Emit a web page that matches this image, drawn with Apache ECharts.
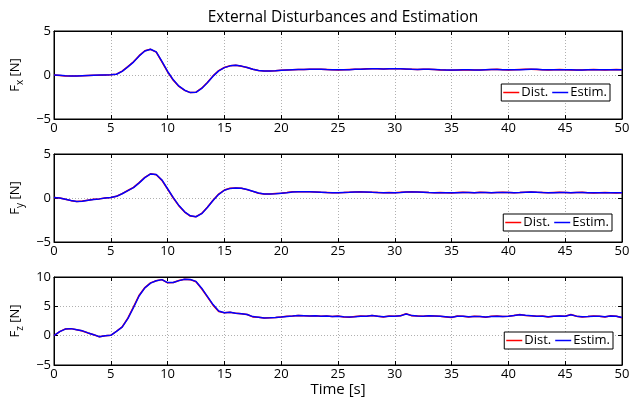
<!DOCTYPE html>
<html>
<head>
<meta charset="utf-8">
<script src="https://cdn.jsdelivr.net/npm/echarts@6/dist/echarts.min.js"></script>
<style>html,body{margin:0;padding:0;background:#fff}#c{width:641px;height:400px}</style>
</head>
<body>
<div id="c"></div>
<script>
// time [s]
const time = [0,0.5,1,1.5,2,2.5,3,3.5,4,4.5,5,5.5,6,6.5,7,7.5,8,8.5,9,9.5,10,10.5,11,11.5,12,12.5,13,13.5,14,14.5,15,15.5,16,16.5,17,17.5,18,18.5,19,19.5,20,20.5,21,21.5,22,22.5,23,23.5,24,24.5,25,25.5,26,26.5,27,27.5,28,28.5,29,29.5,30,30.5,31,31.5,32,32.5,33,33.5,34,34.5,35,35.5,36,36.5,37,37.5,38,38.5,39,39.5,40,40.5,41,41.5,42,42.5,43,43.5,44,44.5,45,45.5,46,46.5,47,47.5,48,48.5,49,49.5,50];

const fxDist = [0,-0.05,-0.1,-0.12,-0.1,-0.08,-0.05,-0.03,-0.02,0,0.02,0.1,0.45,0.95,1.5,2.2,2.75,2.92,2.6,1.5,0.35,-0.6,-1.3,-1.75,-2.0,-1.95,-1.5,-0.85,-0.1,0.5,0.85,1.05,1.1,1.0,0.85,0.65,0.5,0.45,0.45,0.48,0.55,0.58,0.6,0.63,0.62,0.65,0.66,0.64,0.62,0.6,0.58,0.6,0.62,0.64,0.66,0.7,0.72,0.7,0.68,0.7,0.72,0.7,0.66,0.64,0.62,0.65,0.66,0.62,0.58,0.56,0.55,0.58,0.6,0.58,0.56,0.58,0.6,0.63,0.64,0.6,0.58,0.6,0.62,0.64,0.66,0.63,0.6,0.58,0.6,0.62,0.6,0.58,0.56,0.58,0.6,0.62,0.6,0.58,0.6,0.62,0.6];
const fxEstim = [0,-0.04,-0.09,-0.12,-0.11,-0.08,-0.05,-0.03,-0.01,0,0.02,0.09,0.42,0.92,1.47,2.17,2.73,2.92,2.63,1.55,0.4,-0.55,-1.27,-1.73,-2.0,-1.97,-1.53,-0.88,-0.13,0.47,0.84,1.04,1.1,1.01,0.86,0.66,0.51,0.45,0.45,0.47,0.54,0.58,0.61,0.62,0.63,0.64,0.65,0.65,0.62,0.61,0.59,0.6,0.61,0.64,0.65,0.69,0.71,0.7,0.69,0.7,0.71,0.7,0.67,0.64,0.63,0.64,0.65,0.63,0.59,0.57,0.56,0.57,0.6,0.59,0.57,0.58,0.6,0.62,0.63,0.61,0.59,0.6,0.61,0.63,0.65,0.64,0.61,0.59,0.6,0.61,0.6,0.59,0.57,0.58,0.6,0.61,0.6,0.59,0.6,0.61,0.6];

const fyDist = [0.05,0,-0.15,-0.3,-0.4,-0.35,-0.25,-0.15,-0.1,0,0.05,0.2,0.5,0.85,1.2,1.75,2.35,2.75,2.65,2.0,1.0,0,-0.9,-1.6,-2.05,-2.12,-1.75,-1.05,-0.25,0.45,0.9,1.1,1.15,1.1,0.95,0.75,0.55,0.45,0.45,0.5,0.55,0.62,0.7,0.72,0.72,0.7,0.68,0.64,0.62,0.6,0.6,0.62,0.65,0.68,0.7,0.66,0.64,0.62,0.6,0.62,0.6,0.64,0.68,0.7,0.68,0.66,0.62,0.6,0.62,0.6,0.58,0.62,0.64,0.62,0.6,0.64,0.62,0.6,0.62,0.64,0.62,0.6,0.62,0.66,0.68,0.64,0.62,0.6,0.62,0.64,0.62,0.6,0.62,0.64,0.6,0.58,0.6,0.62,0.6,0.58,0.6];
const fyEstim = [0.05,0.01,-0.14,-0.29,-0.39,-0.36,-0.26,-0.16,-0.1,-0.01,0.05,0.19,0.48,0.83,1.18,1.72,2.32,2.74,2.68,2.05,1.05,0.05,-0.86,-1.57,-2.03,-2.13,-1.78,-1.09,-0.29,0.42,0.88,1.09,1.15,1.11,0.96,0.77,0.56,0.46,0.45,0.49,0.55,0.61,0.69,0.72,0.72,0.7,0.68,0.65,0.62,0.61,0.6,0.62,0.64,0.67,0.69,0.67,0.64,0.62,0.61,0.61,0.61,0.63,0.67,0.69,0.68,0.66,0.63,0.61,0.61,0.6,0.59,0.61,0.63,0.62,0.61,0.63,0.62,0.61,0.62,0.63,0.62,0.61,0.62,0.65,0.67,0.65,0.62,0.61,0.61,0.63,0.62,0.61,0.62,0.63,0.61,0.59,0.6,0.61,0.6,0.59,0.6];

const fzDist = [0,0.7,1.15,1.2,1.0,0.8,0.45,0.15,-0.2,0,0.05,0.75,1.5,3.0,4.9,6.9,8.2,9.0,9.35,9.55,9.0,9.05,9.4,9.6,9.55,9.2,8.0,6.6,5.2,4.1,3.9,4.0,3.8,3.75,3.6,3.2,3.15,3.0,3.05,3.1,3.2,3.3,3.35,3.45,3.4,3.35,3.4,3.3,3.35,3.25,3.35,3.2,3.15,3.25,3.35,3.3,3.45,3.3,3.2,3.35,3.3,3.4,3.75,3.4,3.35,3.3,3.4,3.35,3.3,3.2,3.1,3.35,3.3,3.2,3.3,3.25,3.15,3.3,3.35,3.25,3.3,3.45,3.6,3.45,3.4,3.3,3.35,3.2,3.3,3.35,3.3,3.6,3.3,3.2,3.25,3.35,3.3,3.2,3.4,3.3,3.05];
const fzEstim = [0,0.68,1.12,1.2,1.02,0.82,0.47,0.17,-0.18,0,0.06,0.72,1.45,2.9,4.8,6.8,8.15,8.95,9.35,9.55,9.05,9.05,9.38,9.6,9.57,9.25,8.1,6.7,5.3,4.2,3.9,3.98,3.82,3.75,3.62,3.25,3.15,3.02,3.05,3.1,3.18,3.28,3.35,3.43,3.4,3.36,3.38,3.32,3.34,3.27,3.33,3.22,3.17,3.24,3.33,3.31,3.42,3.32,3.22,3.33,3.3,3.38,3.7,3.42,3.35,3.31,3.38,3.35,3.31,3.22,3.13,3.32,3.3,3.22,3.28,3.26,3.18,3.28,3.33,3.27,3.3,3.42,3.57,3.46,3.4,3.32,3.33,3.22,3.29,3.34,3.31,3.55,3.33,3.22,3.25,3.33,3.3,3.22,3.37,3.3,3.08];

const xTicks = {min: 0, max: 50, step: 5};
const yRanges = [[-5, 5], [-5, 5], [-5, 10]];
const yNames = ['{a|F}{s|x}{a| [N]}', '{a|F}{s|y}{a| [N]}', '{a|F}{s|z}{a| [N]}'];

const FONT = 'Open Sans';
const chart = echarts.init(document.getElementById('c'));
const tops = [31, 154, 277];
const H = 88;

const grids = tops.map(t => ({left: 54, right: 19, top: t, height: H, show: true, borderColor: '#000', borderWidth: 1, backgroundColor: '#fff'}));
const xAxes = [], yAxes = [];
const dotted = {show: true, lineStyle: {color: '#b0b0b0', width: 1, type: [1, 2]}};
for (let i = 0; i < 3; i++) {
  xAxes.push({
    type: 'value', gridIndex: i, position: 'bottom', min: xTicks.min, max: xTicks.max, interval: xTicks.step,
    axisLine: {show: true, onZero: false, lineStyle: {color: '#000', width: 1}},
    axisTick: {show: true, inside: true, length: 4, lineStyle: {color: '#000'}},
    axisLabel: {color: '#000', fontSize: 13, fontFamily: FONT, margin: 3},
    splitLine: dotted,
    name: i === 2 ? 'Time [s]' : '', nameLocation: 'middle', nameGap: 15,
    nameTextStyle: {color: '#000', fontSize: 15, fontFamily: FONT}
  });
  yAxes.push({
    type: 'value', gridIndex: i, position: 'left', min: yRanges[i][0], max: yRanges[i][1], interval: 5,
    axisLine: {show: true, onZero: false, lineStyle: {color: '#000', width: 1}},
    axisTick: {show: true, inside: true, length: 4, lineStyle: {color: '#000'}},
    axisLabel: {color: '#000', fontSize: 13, fontFamily: FONT, margin: 3, formatter: v => v < 0 ? '\u2212' + Math.abs(v) : String(v)},
    splitLine: dotted,
    name: yNames[i], nameLocation: 'middle', nameRotate: 90, nameGap: 21,
    nameTextStyle: {color: '#000', fontFamily: FONT, rich: {
      a: {fontSize: 13, fontFamily: FONT, color: '#000', verticalAlign: 'top', lineHeight: 15},
      s: {fontSize: 10, fontFamily: FONT, color: '#000', verticalAlign: 'top', lineHeight: 12, padding: [6, 0, 0, 0]}
    }}
  });
}
for (let i = 0; i < 3; i++) {
  xAxes.push({
    type: 'value', gridIndex: i, position: 'top', min: xTicks.min, max: xTicks.max, interval: xTicks.step,
    axisLine: {show: true, onZero: false, lineStyle: {color: '#000'}},
    axisTick: {show: true, inside: true, length: 4, lineStyle: {color: '#000'}},
    axisLabel: {show: false}, splitLine: {show: false}
  });
  yAxes.push({
    type: 'value', gridIndex: i, position: 'right', min: yRanges[i][0], max: yRanges[i][1], interval: 5,
    axisLine: {show: true, onZero: false, lineStyle: {color: '#000'}},
    axisTick: {show: true, inside: true, length: 4, lineStyle: {color: '#000'}},
    axisLabel: {show: false}, splitLine: {show: false}
  });
}

function pairs(vals) { return time.map((t, k) => [t, vals[k]]); }
const seriesDefs = [
  [fxDist, fxEstim], [fyDist, fyEstim], [fzDist, fzEstim]
];
const series = [];
seriesDefs.forEach((p, i) => {
  series.push({name: 'Dist.', type: 'line', xAxisIndex: i, yAxisIndex: i, data: pairs(p[0]), showSymbol: false, symbol: 'none',
    lineStyle: {color: '#ff0000', width: 1.5}, itemStyle: {color: '#ff0000'}, z: 2});
  series.push({name: 'Estim.', type: 'line', xAxisIndex: i, yAxisIndex: i, data: pairs(p[1]), showSymbol: false, symbol: 'none',
    lineStyle: {color: '#0000ff', width: 1.5}, itemStyle: {color: '#0000ff'}, z: 3});
});

const legendPos = [{right: 31, top: 84}, {right: 29, top: 214}, {right: 28, top: 332}];
const legends = legendPos.map(p => Object.assign({
  data: ['Dist.', 'Estim.'], orient: 'horizontal', icon: 'rect', itemWidth: 16, itemHeight: 1.5, itemGap: 4,
  padding: [2, 3, 2, 2], borderColor: '#000', borderWidth: 1, backgroundColor: '#fff',
  textStyle: {color: '#000', fontSize: 13, fontFamily: FONT, padding: [0, 0, 0, -3]},
  selectedMode: false
}, p));

chart.setOption({
  animation: false,
  backgroundColor: '#fff',
  title: {text: 'External Disturbances and Estimation', left: 338, textAlign: 'center', top: 5,
    textStyle: {color: '#000', fontSize: 15.5, fontWeight: 'normal', fontFamily: FONT}},
  grid: grids, xAxis: xAxes, yAxis: yAxes, legend: legends, series: series
});
</script>
</body>
</html>
